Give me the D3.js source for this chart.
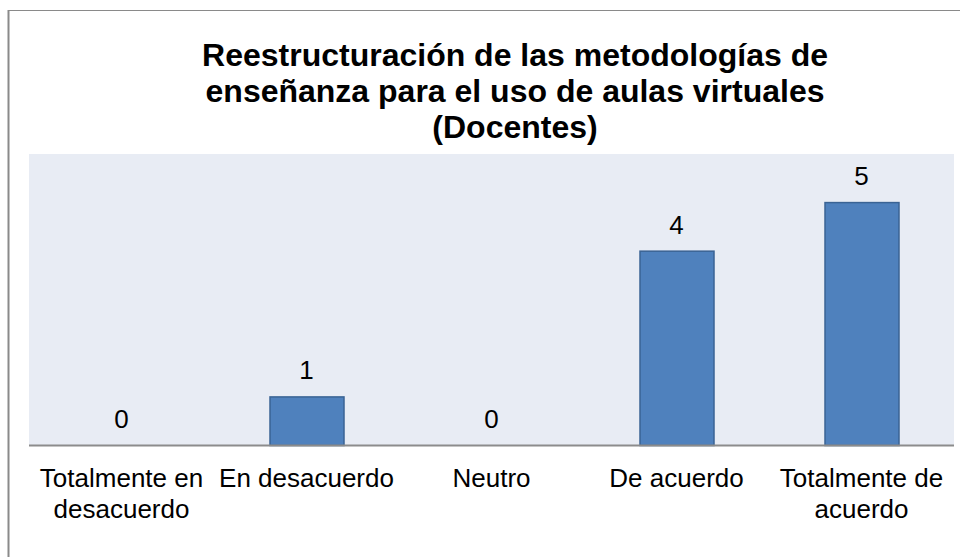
<!DOCTYPE html>
<html>
<head>
<meta charset="utf-8">
<script src="https://cdn.jsdelivr.net/npm/d3@7"></script>
<style>
  html, body { margin: 0; padding: 0; background: #fff; }
  svg { display: block; }
  text { font-family: Arial, "Liberation Sans", sans-serif; fill: #000; }
</style>
</head>
<body>
<svg id="chart" width="960" height="557"></svg>
<script>
const titleLines = ["Reestructuración de las metodologías de", "enseñanza para el uso de aulas virtuales", "(Docentes)"];
const categories = ["Totalmente en desacuerdo", "En desacuerdo", "Neutro", "De acuerdo", "Totalmente de acuerdo"];
const values = [0, 1, 0, 4, 5];
const yDomain = [0, 6];

const svg = d3.select("#chart");
const W = 960, H = 557;
const plot = { left: 29, right: 954, top: 154, bottom: 445.5 };

// outer chart border (only left and top visible in the crop)
svg.append("line").attr("x1", 8.5).attr("x2", 8.5).attr("y1", 10).attr("y2", H)
  .attr("stroke", "#8a8a8a").attr("stroke-width", 2);
svg.append("line").attr("x1", 8).attr("x2", W).attr("y1", 10.5).attr("y2", 10.5)
  .attr("stroke", "#8a8a8a").attr("stroke-width", 1);

// plot background
svg.append("rect").attr("x", plot.left).attr("y", plot.top)
  .attr("width", plot.right - plot.left).attr("height", plot.bottom - plot.top)
  .attr("fill", "#E8ECF4");

const x = d3.scaleBand().domain(categories).range([plot.left, plot.right])
  .paddingInner(0.6).paddingOuter(0.3);
const y = d3.scaleLinear().domain(yDomain).range([plot.bottom, plot.top]);

// bars
svg.append("g").selectAll("rect").data(values).join("rect")
  .attr("x", (d, i) => x(categories[i]) + 0.5)
  .attr("y", d => y(d))
  .attr("width", x.bandwidth())
  .attr("height", d => y(0) - y(d))
  .attr("fill", "#4F81BD")
  .attr("stroke", "#3A6394")
  .attr("stroke-width", 1.5)
  .style("display", d => d > 0 ? null : "none");

// data labels
svg.append("g").selectAll("text").data(values).join("text")
  .attr("x", (d, i) => x(categories[i]) + x.bandwidth() / 2)
  .attr("y", d => y(d) - 17.5)
  .attr("text-anchor", "middle")
  .style("font-size", "26px")
  .text(d => d);

// x axis
const xAxis = d3.axisBottom(x).tickSize(0).tickPadding(0);
const gx = svg.append("g").attr("transform", `translate(0,${plot.bottom})`).call(xAxis);
gx.select(".domain").attr("d", `M${plot.left},0H${plot.right}`)
  .attr("stroke", "#8C8C8C").attr("stroke-width", 2);
gx.selectAll(".tick text").remove();

// wrapped category labels
const step = x.step();
gx.selectAll(".tick").each(function(d) {
  const t = d3.select(this).append("text")
    .attr("text-anchor", "middle")
    .attr("fill", "#000")
    .style("font-family", "Arial, 'Liberation Sans', sans-serif")
    .style("font-size", "26px");
  const words = d.split(" ");
  let lines = [], cur = [];
  const tmp = t.append("tspan");
  words.forEach(w => {
    const trial = cur.concat([w]).join(" ");
    tmp.text(trial);
    if (tmp.node().getComputedTextLength() > step + 4 && cur.length) {
      lines.push(cur.join(" "));
      cur = [w];
    } else cur.push(w);
  });
  lines.push(cur.join(" "));
  tmp.remove();
  lines.forEach((l, i) => {
    t.append("tspan").attr("x", 0).attr("y", 41 + i * 31).text(l);
  });
});

// title
const cx = 515;
svg.append("g").selectAll("text").data(titleLines).join("text")
  .attr("x", cx)
  .attr("y", (d, i) => 65.5 + i * 36)
  .attr("text-anchor", "middle")
  .style("font-size", "32px")
  .style("font-weight", "bold")
  .text(d => d);
</script>
</body>
</html>
